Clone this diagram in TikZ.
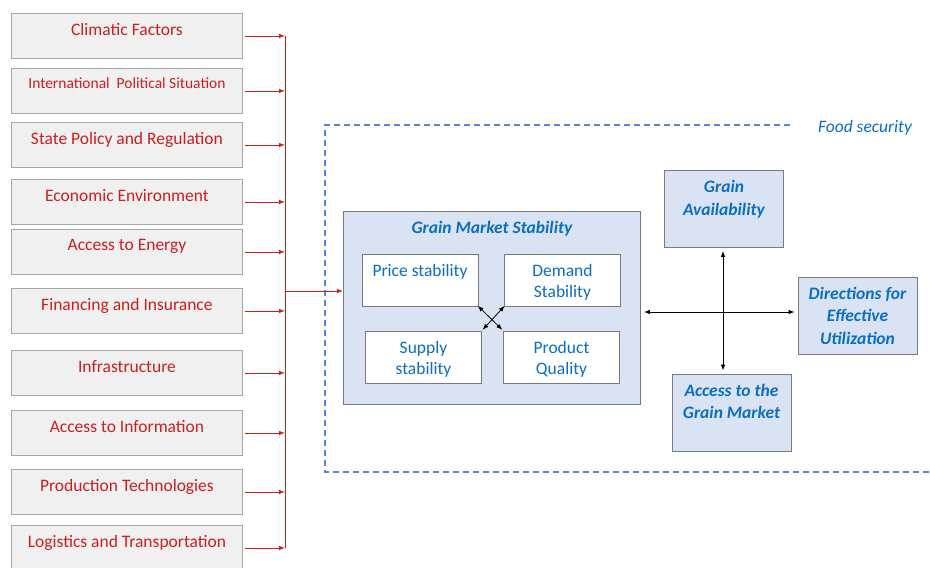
\documentclass[tikz,border=0pt]{standalone}
\usepackage{fontspec}
\setmainfont{Carlito}
\usepackage{tikz}
\usetikzlibrary{positioning}
\usetikzlibrary{shapes,arrows,arrows.meta}
\definecolor{lred}{HTML}{CC1F1F}
\definecolor{lblue}{HTML}{0A6EC2}
\definecolor{dblue}{HTML}{5B86D6}
\definecolor{lfill}{HTML}{DAE3F3}
\definecolor{lgrey}{HTML}{F0F0F0}
\definecolor{mgrey}{HTML}{A6A6A6}
\definecolor{dgrey}{HTML}{7A7A7A}

\begin{document}
\begin{tikzpicture}[x=1pt,y=-1pt,
    font=\fontsize{17.5pt}{21.5pt}\selectfont,
    factor/.style={draw=mgrey, fill=lgrey, line width=0.9pt, minimum width=231pt, minimum height=45pt, inner sep=0pt},
    factortext/.style={text=lred, inner sep=0pt},
    redline/.style={draw=lred, line width=0.8pt},
    redarrow/.style={redline, -{Latex[length=6pt,width=4.5pt]}, shorten <=2pt},
    bluebox/.style={draw=dgrey, fill=lfill, line width=0.9pt, inner sep=0pt},
    inbox/.style={draw=dgrey, fill=white, line width=0.9pt, minimum width=116pt, minimum height=52pt, align=center, text=lblue, inner sep=0pt},
    sidebox/.style={bluebox, minimum width=119pt, minimum height=77pt, align=center, text=lblue, font=\fontsize{17.5pt}{22.5pt}\selectfont\bfseries\itshape},
    blackarrow/.style={draw=black, line width=0.8pt, {Latex[length=6pt,width=4.5pt]}-{Latex[length=6pt,width=4.5pt]}, shorten <=3pt, shorten >=3pt}]
\useasboundingbox (0,0) rectangle (930,568);

% factors on the left
\foreach \i/\y/\txt in {1/13/Climatic Factors,
    2/68/{\fontsize{15.5pt}{18pt}\selectfont International\ \ Political Situation},
    3/122/State Policy and Regulation,
    4/179/Economic Environment,
    5/229/Access to Energy,
    6/288/Financing and Insurance,
    7/350/Infrastructure,
    8/410/Access to Information,
    9/469/Production Technologies,
    10/525/Logistics and Transportation}{
  \node[factor, anchor=north west] (f\i) at (11,\y) {};
  \node[factortext, below=10pt of f\i.north] (t\i) {\txt};
}

% red collector line
\coordinate (bus) at (285,0);
\foreach \i in {1,...,10}
  \draw[redarrow] (f\i.east) -- (f\i.east -| bus);
\draw[redline] (f1.east -| bus) -- (f10.east -| bus);

% food security frame
\draw[dblue, line width=1.1pt, dash pattern=on 6pt off 4pt] (790,125) -- (325,125) -- (325,472) -- (930,472);
\node[text=lblue, font=\fontsize{17.5pt}{21.5pt}\selectfont\itshape, inner sep=0pt] (fs) at (865,128) {Food security};

% grain market stability
\node[bluebox, anchor=north west, minimum width=297pt, minimum height=193pt] (gms) at (343,211) {};
\node[text=lblue, font=\fontsize{17.5pt}{21.5pt}\selectfont\bfseries\itshape, inner sep=0pt, below=10pt of gms.north] (gmst) {Grain Market Stability};

\node[inbox] (price) at (420,280) {\raisebox{-3pt}{Price stability}\\\phantom{S}};
\node[inbox] (demand) at (562.5,280) {\rule{0pt}{17pt}Demand\\Stability};
\node[inbox] (supply) at (423.5,357) {\rule{0pt}{17pt}Supply\\stability};
\node[inbox] (quality) at (561.5,357) {\rule{0pt}{17pt}Product\\Quality};

\draw[blackarrow, shorten <=-1pt, shorten >=1pt] (price.south east) -- (quality.north west);
\draw[blackarrow, shorten <=-1pt, shorten >=1pt] (demand.south west) -- (supply.north east);

\coordinate (feed) at (285,291);
\draw[redline, -{Latex[length=6pt,width=4.5pt]}] (feed) -- (feed -| gms.west);

% food security components
\node[sidebox] (avail) at (724,209) {Grain\\Availability\\\phantom{A}};
\node[sidebox] (dir) at (857.5,315.5) {Directions for\\Effective\\Utilization};
\node[sidebox] (access) at (731.5,412.5) {Access to the\\Grain Market\\\phantom{A}};

\coordinate (hub) at (723,312);
\draw[blackarrow] (hub |- avail.south) -- (hub |- access.north);
\draw[blackarrow] (gms.east |- hub) -- (dir.west |- hub);
\end{tikzpicture}
\end{document}
